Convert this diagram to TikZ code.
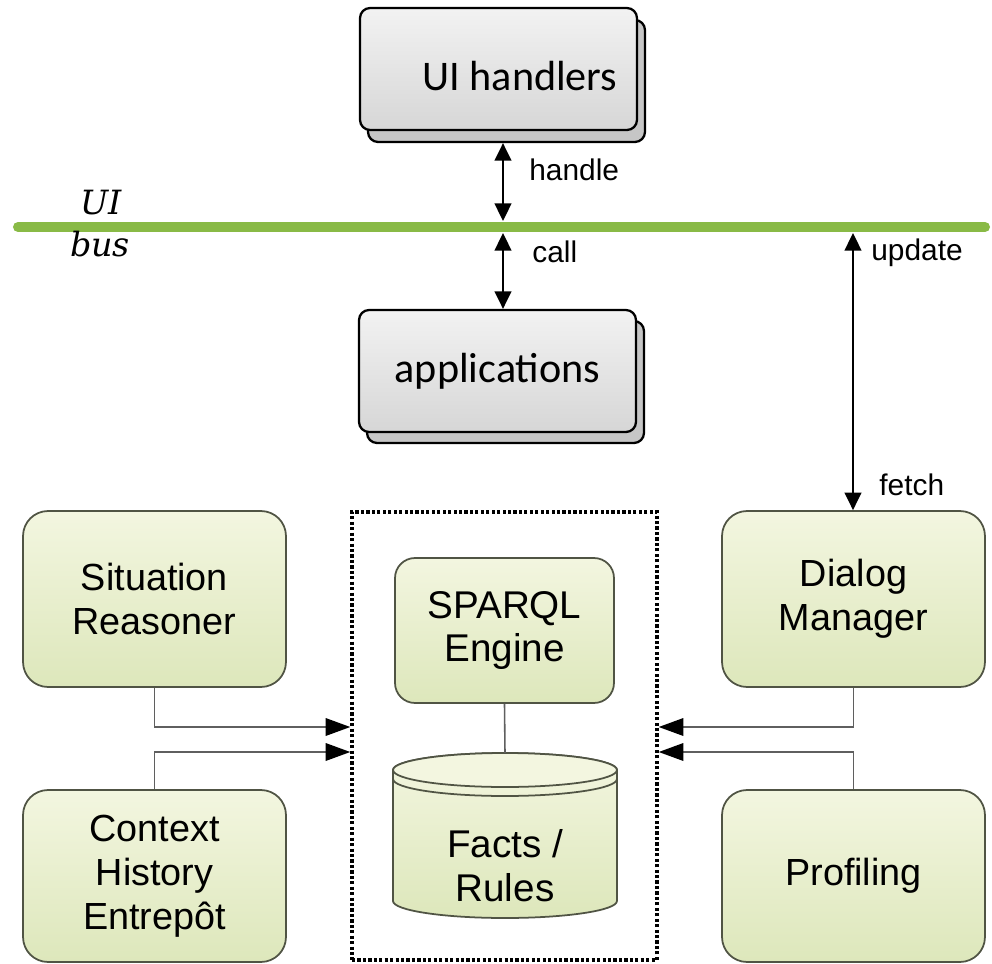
\documentclass[tikz,border=0pt]{standalone}
\usepackage{fontspec}
\setmainfont{Liberation Sans}
\newfontfamily\calib{Carlito}
\newfontfamily\busfont{DejaVu Serif}
\usetikzlibrary{arrows.meta,calc}
\definecolor{busgreen}{RGB}{137,186,70}
\definecolor{gtop}{RGB}{243,246,224}
\definecolor{gbot}{RGB}{221,231,187}
\definecolor{gborder}{RGB}{80,84,68}
\definecolor{conngray}{RGB}{95,95,95}
\tikzset{
  gbox/.style={draw=gborder, line width=1pt, rounded corners=0.5cm, top color=gtop, bottom color=gbot,
    minimum width=5.26cm, minimum height=3.52cm, align=center, inner sep=0pt,
    font=\fontsize{21.5}{25}\selectfont},
  grayfront/.style={draw=black, line width=1.3pt, rounded corners=0.2cm, top color=gray!10, bottom color=gray!32,
    minimum width=5.54cm, minimum height=2.44cm, inner sep=0pt},
  grayback/.style={draw=black, line width=1.3pt, rounded corners=0.2cm, fill=gray!45,
    minimum width=5.54cm, minimum height=2.44cm, inner sep=0pt},
  biarrow/.style={{Triangle[length=10pt,width=9.5pt]}-{Triangle[length=10pt,width=9.5pt]}, line width=1.1pt},
  conn/.style={draw=conngray, line width=0.9pt, -{Triangle[length=14pt,width=10pt,color=black]}},
  lbl/.style={font=\fontsize{17}{20}\selectfont, anchor=west, inner sep=0pt},
  apptext/.style={font=\calib\fontsize{24}{28}\selectfont, inner sep=0pt},
  bustext/.style={font=\busfont\itshape\fontsize{19}{22}\selectfont, inner sep=0pt},
  dotbox/.style={draw=black, line width=2pt, dash pattern=on 1.8pt off 1.3pt,
    minimum width=6.1cm, minimum height=8.96cm, inner sep=0pt}
}
\begin{document}
\begin{tikzpicture}[x=0.02cm,y=-0.02cm]
\fill[white] (0,0) rectangle (992,964);
\useasboundingbox (0,0) rectangle (992,964);

% UI bus
\coordinate (busL) at (18,227);
\coordinate (busR) at (985,227);
\draw[busgreen, line width=5.7pt, line cap=round] (busL) -- (busR);
\node[bustext] (uilbl) at (101,203) {UI};
\node[bustext] (buslbl) at (100,244) {bus};

% UI handlers
\node[grayback] (uihb) at (506.5,81) {};
\node[grayfront] (uih) at (498.5,69) {};
\node[apptext] (uihtxt) at (520,76) {UI handlers};

% applications
\node[grayback] (appb) at (505.5,382) {};
\node[grayfront] (app) at (497.5,371) {};
\node[apptext] (apptxt) at (497.5,371) {applications};

% bus points
\coordinate (hTop) at (503,221);
\coordinate (hBot) at (503,233);
\coordinate (uBot) at (853,233);

\draw[biarrow] (uihb.south -| hTop) -- (hTop);
\draw[biarrow] (hBot) -- (hBot |- app.north);
\node[lbl] (handlelbl) at (529,170) {handle};
\node[lbl] (calllbl) at (532,252) {call};

% dotted container
\node[dotbox] (dbox) at (504.5,736) {};

% green boxes
\node[gbox] (sr) at (154.5,599) {Situation\\Reasoner};
\node[gbox, minimum height=3.44cm] (ch) at (154.5,876) {Context\\History\\Entrepôt};
\node[gbox] (dm) at (853.5,599) {Dialog\\Manager};
\node[gbox, minimum height=3.44cm] (pr) at (853.5,876) {Profiling};
\node[gbox, rounded corners=0.4cm, minimum width=4.38cm, minimum height=2.9cm,
  font=\fontsize{22}{25}\selectfont] (sp) at (504.5,630.5) {SPARQL\\Engine};

% update / fetch
\draw[biarrow] (uBot) -- (uBot |- dm.north);
\node[lbl] (updlbl) at (871,253) {update};
\node[lbl] (fetchlbl) at (879,485) {fetch};

% cylinder
\coordinate (cyltop) at (505,753);
\path[top color=gtop, bottom color=gbot, draw=gborder, line width=1pt]
  (393,770) -- (393,901) arc[start angle=180, end angle=360, x radius=2.24cm, y radius=0.34cm]
  -- (617,770) arc[start angle=0, end angle=180, x radius=2.24cm, y radius=0.34cm] -- cycle;
\draw[gborder, line width=1pt, fill=gtop] (505,770) ellipse[x radius=2.24cm, y radius=0.34cm];
\draw[gborder, line width=1pt] (393,779) arc[start angle=180, end angle=360, x radius=2.24cm, y radius=0.34cm];
\node[align=center, inner sep=0pt, font=\fontsize{22}{25}\selectfont] (db) at (505,866) {Facts /\\Rules};

\draw[conngray, line width=0.9pt] (sp.south) -- (cyltop);

% connectors into container
\draw[conn] (sr.south) |- ($(dbox.west)+(0,-9)$);
\draw[conn] (ch.north) |- ($(dbox.west)+(0,16)$);
\draw[conn] (dm.south) |- ($(dbox.east)+(0,-9)$);
\draw[conn] (pr.north) |- ($(dbox.east)+(0,16)$);
\end{tikzpicture}
\end{document}
